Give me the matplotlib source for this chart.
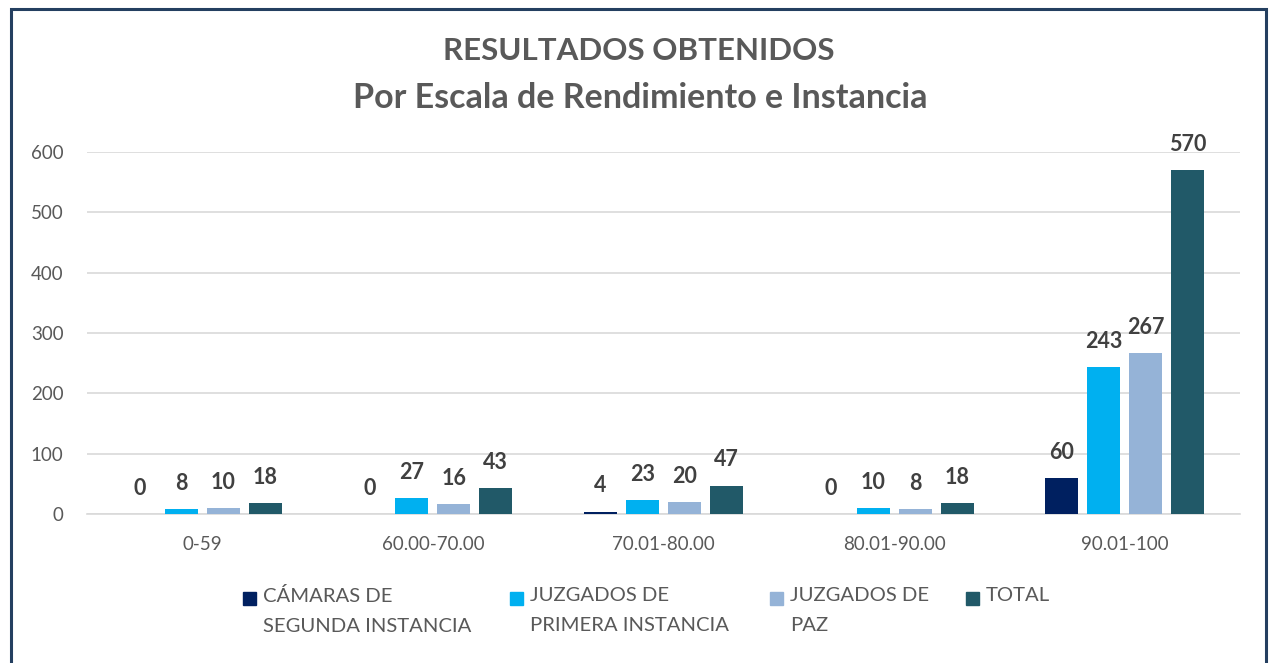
import matplotlib
matplotlib.use("Agg")
import matplotlib.pyplot as plt
from matplotlib.patches import Rectangle
import numpy as np

categories = ["0-59", "60.00-70.00", "70.01-80.00", "80.01-90.00", "90.01-100"]
series_names = ["CÁMARAS DE\nSEGUNDA INSTANCIA", "JUZGADOS DE\nPRIMERA INSTANCIA", "JUZGADOS DE\nPAZ", "TOTAL"]
camaras = [0, 0, 4, 0, 60]
juzgados_primera = [8, 27, 23, 10, 243]
juzgados_paz = [10, 16, 20, 8, 267]
total = [18, 43, 47, 18, 570]
series_values = [camaras, juzgados_primera, juzgados_paz, total]
colors = ["#002060", "#00B0F0", "#95B3D7", "#215968"]
yticks = [0, 100, 200, 300, 400, 500, 600]

plt.rcParams['font.family'] = ['Lato', 'DejaVu Sans']

W, H = 1270, 663
fig = plt.figure(figsize=(W / 100, H / 100), dpi=100)
fig.patch.set_facecolor("white")

ax = fig.add_axes([87 / W, 1 - 514 / H, 1153 / W, (514 - 152) / H])
x = np.arange(len(categories))
step = 0.182
width = 0.143
for i, (vals, col) in enumerate(zip(series_values, colors)):
    pos = x + (i - 1.5) * step
    ax.bar(pos, vals, width=width, color=col, zorder=3)
    for px, v in zip(pos, vals):
        ax.annotate(str(v), (px, v), xytext=(0, 18.5), textcoords="offset points",
                    ha="center", va="center", fontsize=15.5, fontweight="bold",
                    color="#404040", annotation_clip=False)

ax.set_xlim(-0.5, len(categories) - 0.5)
ax.set_ylim(0, 600)
ax.set_yticks(yticks)
ax.set_xticks(x)
ax.set_xticklabels(categories)
ax.tick_params(axis="both", length=0, labelsize=13.5, labelcolor="#595959")
ax.tick_params(axis="y", pad=17)
ax.tick_params(axis="x", pad=16)
ax.grid(axis="y", color="#D9D9D9", linewidth=1.2, zorder=0)
for s in ["top", "right", "left"]:
    ax.spines[s].set_visible(False)
ax.spines["bottom"].set_color("#D9D9D9")
ax.spines["bottom"].set_linewidth(1.2)
ax.set_axisbelow(True)

fig.text(639 / W, 1 - 51 / H, "RESULTADOS OBTENIDOS", ha="center", va="center",
         fontsize=22.5, fontweight="bold", color="#595959")
fig.text(640 / W, 1 - 98 / H, "Por Escala de Rendimiento e Instancia", ha="center", va="center",
         fontsize=24.5, fontweight="bold", color="#595959")

# legend
leg_x = [243, 510, 770, 966]
for lx, name, col in zip(leg_x, series_names, colors):
    fig.patches.append(Rectangle((lx / W, 1 - 605 / H), 13 / W, 13 / H,
                                 transform=fig.transFigure, color=col, figure=fig))
    fig.text((lx + 20) / W, 1 - 587 / H, name, ha="left", va="top",
             fontsize=14.6, color="#595959", linespacing=1.95)

# frame
fig.patches.append(Rectangle((11 / W, -0.05), (1266 - 11) / W, 1.05 - 9 / H,
                             transform=fig.transFigure, fill=False,
                             edgecolor="#243F60", linewidth=2.2, figure=fig))

fig.savefig("out.png", dpi=100)
